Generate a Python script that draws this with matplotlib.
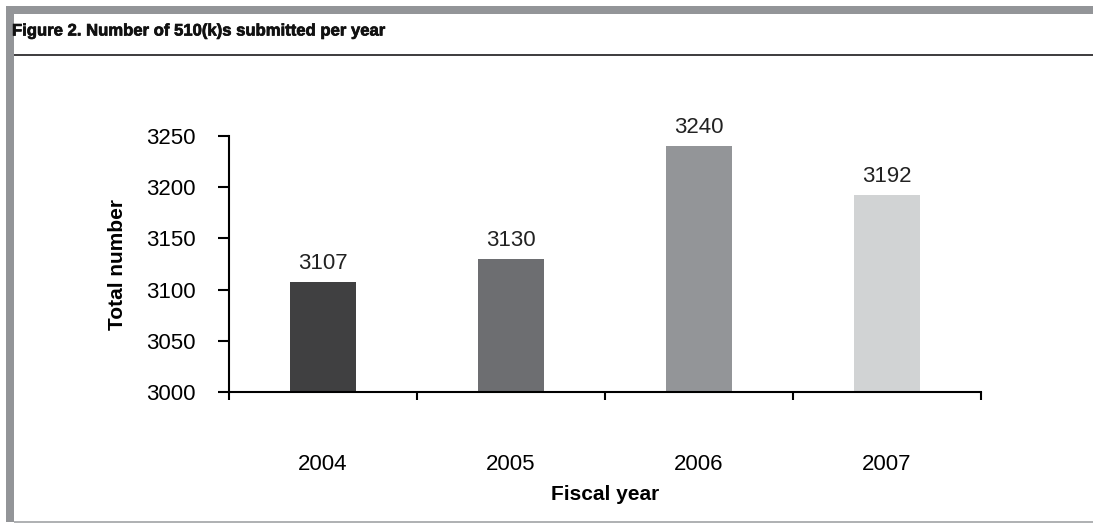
import matplotlib.pyplot as plt
import matplotlib.patheffects as pe
from matplotlib.patches import Rectangle

years = ['2004', '2005', '2006', '2007']
totals = [3107, 3130, 3240, 3192]
bar_colors = ['#404041', '#6d6e71', '#939598', '#d1d3d4']
yticks = [3000, 3050, 3100, 3150, 3200, 3250]

plt.rcParams['font.family'] = ['Liberation Sans', 'DejaVu Sans']

W, H = 1093, 525
fig = plt.figure(figsize=(W / 100, H / 100), dpi=100)

# frame of the figure box (pixel coords -> figure fraction)
def px_rect(x0, y0, x1, y1, color):
    fig.patches.append(Rectangle((x0 / W, 1 - y1 / H), (x1 - x0) / W, (y1 - y0) / H,
                                 transform=fig.transFigure, color=color, lw=0, zorder=0))

px_rect(6, 6, W, 14, '#939598')      # top band
px_rect(6, 6, 14, 522, '#939598')    # left band
px_rect(14, 521, W, 523, '#b0b2b4')  # bottom rule
px_rect(14, 54, W, 56, '#414042')    # rule under title

fig.text(12 / W, 1 - 31 / H, 'Figure 2. Number of 510(k)s submitted per year',
         fontsize=12, fontweight='bold', va='center', ha='left', color='#111111',
         path_effects=[pe.withStroke(linewidth=0.5, foreground='#111111')])

ax = fig.add_axes([229 / W, 1 - 392 / H, (981 - 229) / W, (392 - 136) / H])
x = list(range(len(years)))
ax.bar(x, totals, width=0.35, color=bar_colors, zorder=2)
for xi, v in zip(x, totals):
    ax.text(xi, v + 8, str(v), ha='center', va='bottom', fontsize=16, color='#222222')

ax.set_xlim(-0.5, len(years) - 0.5)
ax.set_ylim(3000, 3250)
ax.set_yticks(yticks)
ax.set_xticks(x)
ax.set_xticklabels(years)
ax.set_xticks([i - 0.5 for i in range(len(years) + 1)], minor=True)

for s in ['top', 'right']:
    ax.spines[s].set_visible(False)
for s in ['left', 'bottom']:
    ax.spines[s].set_linewidth(1.5)

ax.tick_params(axis='y', direction='out', length=8, width=1.5, pad=16, labelsize=16)
ax.tick_params(axis='x', which='major', length=0, pad=45, labelsize=16)
ax.tick_params(axis='x', which='minor', direction='out', length=6, width=1.5)

ax.set_ylabel('Total number', fontsize=15, fontweight='bold', va='center')
ax.set_xlabel('Fiscal year', fontsize=15, fontweight='bold', va='center')
ax.yaxis.set_label_coords((118 - 229) / 752, 0.5)
ax.xaxis.set_label_coords(0.5, (392 - 495) / 256)

fig.savefig('out.png', dpi=100)
